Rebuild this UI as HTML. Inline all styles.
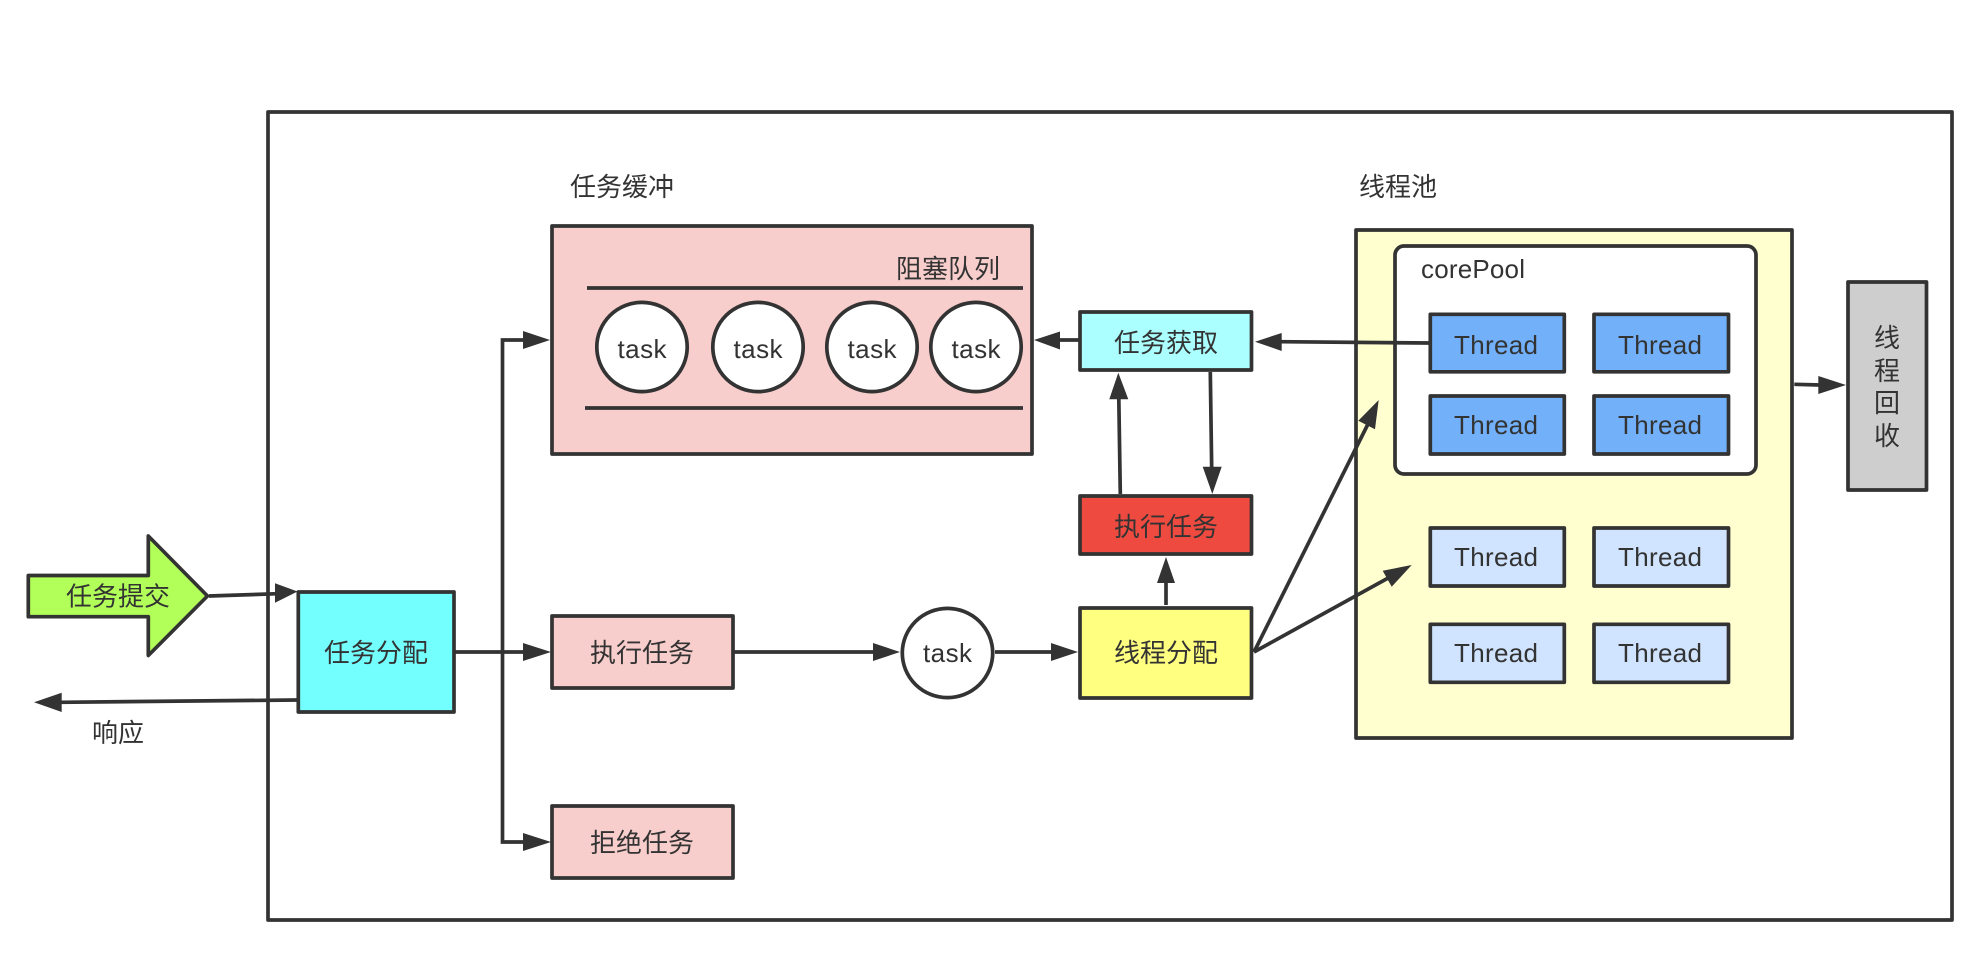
<!DOCTYPE html>
<html><head><meta charset="utf-8"><style>
html,body{margin:0;padding:0;background:#fff;width:1968px;height:976px;overflow:hidden}
svg{display:block}
text{font-family:"Liberation Sans","Noto Sans CJK SC",sans-serif;font-size:26px;fill:#333;text-anchor:middle;dominant-baseline:central}
text.t{dominant-baseline:auto}
.b{stroke:#333;stroke-width:3.7;stroke-linejoin:round}
.l{stroke:#333;stroke-width:3.7;fill:none;stroke-linejoin:miter}
.h{fill:#333;stroke:none}
</style></head><body>
<svg width="1968" height="976" viewBox="0 0 1968 976" xmlns="http://www.w3.org/2000/svg">
<rect width="1968" height="976" fill="#fff"/>
<rect x="268" y="112" width="1684" height="808" fill="#fff" class="b"/>

<rect x="552" y="226" width="480" height="228" fill="#F8CECC" class="b"/>
<line x1="587" y1="288" x2="1023" y2="288" class="l"/>
<line x1="585" y1="408" x2="1023" y2="408" class="l"/>
<ellipse cx="642" cy="347" rx="45.2" ry="44.6" fill="#fff" class="b"/>
<ellipse cx="758" cy="347" rx="45.2" ry="44.6" fill="#fff" class="b"/>
<ellipse cx="872" cy="347" rx="45.2" ry="44.6" fill="#fff" class="b"/>
<ellipse cx="976" cy="347" rx="45.2" ry="44.6" fill="#fff" class="b"/>
<text class="t" x="642" y="358" textLength="49">task</text><text class="t" x="758" y="358" textLength="49">task</text><text class="t" x="872" y="358" textLength="49">task</text><text class="t" x="976" y="358" textLength="49">task</text>
<text x="948" y="269">阻塞队列</text>
<text x="622" y="187">任务缓冲</text>
<text x="1398" y="187">线程池</text>

<rect x="1356" y="230" width="436" height="508" fill="#FFFFD0" class="b"/>
<rect x="1395" y="246" width="361" height="228" rx="9" ry="9" fill="#fff" class="b"/>
<text class="t" x="1473" y="278" textLength="104">corePool</text>

<g fill="#72B1FA" class="b">
<rect x="1430.3" y="314.3" width="134" height="57.5"/><rect x="1594" y="314.3" width="134.5" height="57.5"/>
<rect x="1430.3" y="396" width="134" height="58"/><rect x="1594" y="396" width="134.5" height="58"/>
</g>
<g fill="#D0E4FF" class="b">
<rect x="1430.3" y="528" width="134" height="58"/><rect x="1594" y="528" width="134.5" height="58"/>
<rect x="1430.3" y="624.3" width="134" height="58"/><rect x="1594" y="624.3" width="134.5" height="58"/>
</g>
<text class="t" x="1496" y="354" textLength="84">Thread</text><text class="t" x="1660" y="354" textLength="84">Thread</text>
<text class="t" x="1496" y="434" textLength="84">Thread</text><text class="t" x="1660" y="434" textLength="84">Thread</text>
<text class="t" x="1496" y="566" textLength="84">Thread</text><text class="t" x="1660" y="566" textLength="84">Thread</text>
<text class="t" x="1496" y="662" textLength="84">Thread</text><text class="t" x="1660" y="662" textLength="84">Thread</text>

<rect x="1848" y="282" width="78.5" height="208" fill="#CECECE" class="b"/>
<text x="1887" y="338">线</text><text x="1887" y="371">程</text><text x="1887" y="403">回</text><text x="1887" y="436">收</text>

<rect x="1080" y="312" width="171.5" height="58" fill="#ABFFFF" class="b"/>
<text x="1166" y="343">任务获取</text>
<rect x="1080" y="496" width="171.5" height="58" fill="#EF4A40" class="b"/>
<text x="1166" y="527">执行任务</text>
<rect x="1080" y="608" width="171.5" height="90" fill="#FFFF80" class="b"/>
<text x="1166" y="653">线程分配</text>

<rect x="298.3" y="592" width="155.7" height="120" fill="#74FFFF" class="b"/>
<text x="376" y="653">任务分配</text>
<rect x="552" y="616" width="181" height="72" fill="#F8CECC" class="b"/>
<text x="642" y="653">执行任务</text>
<rect x="552" y="806" width="181" height="72" fill="#F8CECC" class="b"/>
<text x="642" y="843">拒绝任务</text>
<ellipse cx="947.5" cy="653" rx="45.2" ry="44.6" fill="#fff" class="b"/>
<text class="t" x="947.5" y="662" textLength="49">task</text>

<polygon points="28.3,575.5 148.3,575.5 148.3,536 207.5,596 148.3,655.5 148.3,616.7 28.3,616.7" fill="#B2FF59" class="b"/>
<text x="118" y="596.5">任务提交</text>
<text x="118" y="733">响应</text>

<line x1="209" y1="596" x2="278" y2="593.7" class="l"/>
<polygon class="h" points="297.5,591.5 275,583.3 275,602.7"/>
<line x1="297" y1="700" x2="60" y2="702.3" class="l"/>
<polygon class="h" points="34,702.3 61.7,692.7 61.7,712"/>

<path d="M523,340 H502.5 V842 H523" class="l"/>
<polygon class="h" points="550,340 523,331 523,349"/>
<polygon class="h" points="551,842 523,833 523,851"/>
<line x1="454" y1="652" x2="525" y2="652" class="l"/>
<polygon class="h" points="551,652 523,643 523,661"/>

<line x1="733" y1="652" x2="875" y2="652" class="l"/>
<polygon class="h" points="900,652 873,643 873,661"/>
<line x1="995" y1="652" x2="1053" y2="652" class="l"/>
<polygon class="h" points="1078,652 1051,643 1051,661"/>

<line x1="1080" y1="340" x2="1058" y2="340" class="l"/>
<polygon class="h" points="1034,340 1060,331.5 1060,349.5"/>
<line x1="1430" y1="343" x2="1280" y2="341.7" class="l"/>
<polygon class="h" points="1255,341.7 1281.7,333 1281.7,351"/>
<line x1="1120.3" y1="494" x2="1118.8" y2="398" class="l"/>
<polygon class="h" points="1118.3,372.7 1109.3,399.3 1128.3,399.3"/>
<line x1="1210.3" y1="372" x2="1211.7" y2="469" class="l"/>
<polygon class="h" points="1212.3,494 1202.7,466.7 1221.7,466.7"/>
<line x1="1166" y1="605" x2="1166" y2="581" class="l"/>
<polygon class="h" points="1166,557 1157,583 1175,583"/>
<line x1="1254" y1="652" x2="1368" y2="424" class="l"/>
<polygon class="h" points="1378.7,400 1358.3,420.7 1375,429.3"/>
<line x1="1254" y1="652" x2="1390" y2="577" class="l"/>
<polygon class="h" points="1411.7,565 1382.7,570.7 1391.7,586.7"/>
<line x1="1794.3" y1="384.3" x2="1820" y2="385" class="l"/>
<polygon class="h" points="1846,385 1818.3,376 1818.3,394"/>
</svg>
</body></html>
